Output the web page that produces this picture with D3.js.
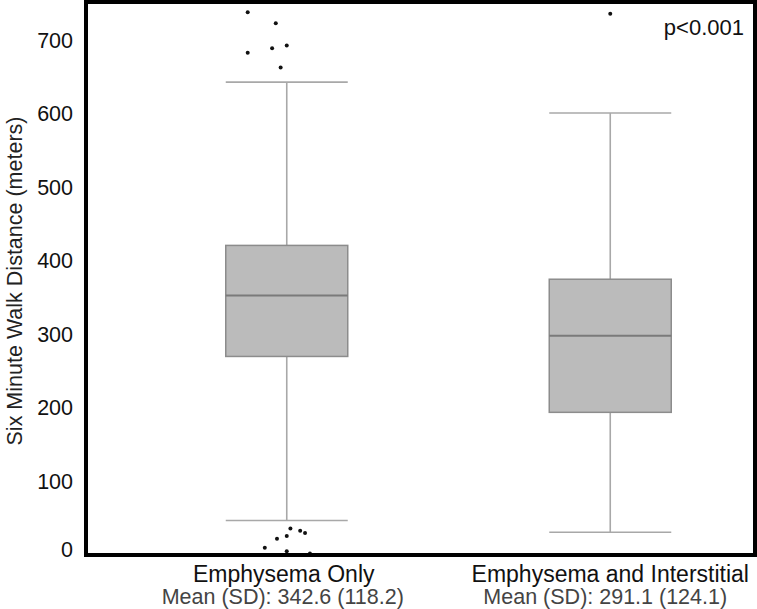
<!DOCTYPE html>
<html><head><meta charset="utf-8">
<script src="https://cdn.jsdelivr.net/npm/d3@7"></script>
<style>body{margin:0;background:#fff;} svg{display:block;font-family:"Liberation Sans",Arial,Helvetica,sans-serif;}</style>
</head><body>
<svg id="c" width="757" height="609"></svg>
<script>
const categories = ["Emphysema Only", "Emphysema and Interstitial"];
const meanLabels = ["Mean (SD): 342.6 (118.2)", "Mean (SD): 291.1 (124.1)"];
const q1 = [270, 194];
const medians = [353, 298];
const q3 = [421, 375];
const whiskerLow = [47, 31];
const whiskerHigh = [643, 601];
const outlierValues = [
  [738, 723, 693, 689, 683, 663, 36, 33, 30, 26, 22, 10, 5, 2],
  [736]
];
const outlierJitter = [
  [-0.32, -0.09, 0.0, -0.12, -0.32, -0.05, 0.03, 0.11, 0.15, 0.0, -0.08, -0.18, 0.0, 0.19],
  [0.0]
];
const yTicks = [0, 100, 200, 300, 400, 500, 600, 700];
const pValue = "p<0.001";
const yTitle = "Six Minute Walk Distance (meters)";

const svg = d3.select("#c");
const frame = {x0: 86, x1: 755, y0: 2, y1: 555};
const y = d3.scaleLinear().domain([0, 752]).range([555, 2]);
const x = d3.scalePoint().domain(categories).range([125, 772]).padding(0.5);
const boxW = 122;

const g = svg.append("g");
categories.forEach((c, i) => {
  const cx = x(c);
  g.append("line").attr("x1", cx).attr("x2", cx).attr("y1", y(q3[i])).attr("y2", y(whiskerHigh[i]))
    .attr("stroke", "#a8a8a8").attr("stroke-width", 1.6);
  g.append("line").attr("x1", cx).attr("x2", cx).attr("y1", y(q1[i])).attr("y2", y(whiskerLow[i]))
    .attr("stroke", "#a8a8a8").attr("stroke-width", 1.6);
  [whiskerHigh[i], whiskerLow[i]].forEach(v => {
    g.append("line").attr("x1", cx - boxW/2).attr("x2", cx + boxW/2).attr("y1", y(v)).attr("y2", y(v))
      .attr("stroke", "#a8a8a8").attr("stroke-width", 1.6);
  });
  g.append("rect").attr("x", cx - boxW/2).attr("width", boxW)
    .attr("y", y(q3[i])).attr("height", y(q1[i]) - y(q3[i]))
    .attr("fill", "#bbbbbb").attr("stroke", "#8c8c8c").attr("stroke-width", 1.5);
  g.append("line").attr("x1", cx - boxW/2).attr("x2", cx + boxW/2).attr("y1", y(medians[i])).attr("y2", y(medians[i]))
    .attr("stroke", "#7a7a7a").attr("stroke-width", 2);
  outlierValues[i].forEach((v, j) => {
    g.append("circle").attr("cx", cx + outlierJitter[i][j] * boxW).attr("cy", y(v)).attr("r", 2)
      .attr("fill", "#111");
  });
});

svg.append("rect").attr("x", 0).attr("y", frame.y1).attr("width", 757).attr("height", 609 - frame.y1).attr("fill", "#fff");

svg.append("rect").attr("x", frame.x0).attr("y", frame.y0).attr("width", frame.x1 - frame.x0).attr("height", frame.y1 - frame.y0)
  .attr("fill", "none").attr("stroke", "#000").attr("stroke-width", 4);

const yAxis = svg.append("g");
yTicks.forEach(t => {
  yAxis.append("text").attr("x", 73).attr("y", t === 0 ? y(t) - 6 : y(t)).attr("dy", "0.35em")
    .attr("text-anchor", "end").attr("font-size", 21.5).attr("fill", "#111").text(t);
});
svg.append("text").attr("transform", `translate(22,${281}) rotate(-90)`).attr("text-anchor", "middle")
  .attr("font-size", 21.5).attr("fill", "#222").text(yTitle);

categories.forEach((c, i) => {
  svg.append("text").attr("x", x(c) - (i === 0 ? 3 : 0)).attr("y", 582).attr("text-anchor", "middle")
    .attr("font-size", 23).attr("fill", "#111").text(c);
  svg.append("text").attr("x", x(c) - (i === 0 ? 4 : 5)).attr("y", 604).attr("text-anchor", "middle")
    .attr("font-size", 21.5).attr("fill", "#444").text(meanLabels[i]);
});

svg.append("text").attr("x", 744).attr("y", 35).attr("text-anchor", "end").attr("font-size", 22)
  .attr("fill", "#111").text(pValue);
</script>
</body></html>
